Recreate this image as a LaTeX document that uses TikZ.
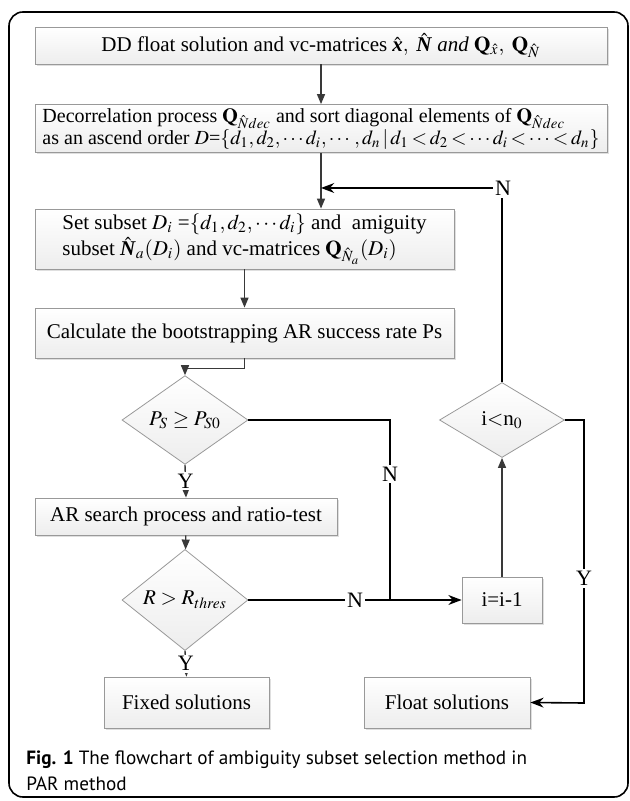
\documentclass[tikz,border=0pt]{standalone}
\usepackage{amsmath}
\usepackage{mathptmx}
\usepackage{fontspec}
\setmainfont{Liberation Serif}
\newfontfamily\capfont{PT Sans}
\usepackage{tikz}
\usetikzlibrary{arrows.meta,shapes.geometric,shadows}
\newcommand{\bhx}{\hat{\textbf{\textit{x}}}}
\newcommand{\bhN}{\hat{\textbf{\textit{N}}}}
\newcommand{\tightlines}{\lineskiplimit=-20pt\relax\thickmuskip=2.5mu\relax}
\tikzset{
  stepbox/.style={draw=gray!80, top color=white, bottom color=gray!14, inner sep=1pt,
    drop shadow={opacity=0.25, shadow xshift=1pt, shadow yshift=-1pt},
    font=\fontsize{10.5}{13}\selectfont},
  test/.style={diamond, draw=gray!80, top color=white, bottom color=gray!14, inner sep=0pt,
    font=\fontsize{10.5}{13}\selectfont},
  flow/.style={draw=gray!45!black, line width=0.7pt, -{Triangle[length=5pt,width=4pt]}},
  loop/.style={draw=black, line width=0.8pt},
  lbl/.style={fill=white, inner sep=1pt, font=\fontsize{11}{13}\selectfont},
  >=Stealth
}
\begin{document}
\begin{tikzpicture}[x=0.5pt, y=-0.5pt]
  \useasboundingbox (0,0) rectangle (630,801);
  \draw[line width=0.8pt, rounded corners=7pt] (9,12) rectangle (628,797);
  % steps
  \node[stepbox, minimum width=286pt, minimum height=18.5pt] (dd) at (321,45.5)
    {DD float solution and vc-matrices $\bhx,\ \bhN$ \textit{and} $\mathbf{Q}_{\hat{x}},\ \mathbf{Q}_{\hat{N}}$};
  \node[stepbox, minimum width=286pt, minimum height=24pt, align=left,
    font=\fontsize{10}{11}\selectfont] (dec) at (321,128.5)
    {\tightlines Decorrelation process $\mathbf{Q}_{\hat{N}dec}$ and sort diagonal elements of $\mathbf{Q}_{\hat{N}dec}$\\
     \tightlines as an ascend order $D$=$\{d_1, d_2, \cdots d_i, \cdots, d_n\, | \,d_1 < d_2 < \cdots d_i < \cdots < d_n\}$};
  \node[stepbox, minimum width=209.5pt, minimum height=30pt, align=left] (sub) at (244.5,239)
    {Set subset $D_i$ =$\{d_1, d_2, \cdots d_i\}$ and \ amiguity\\
     subset $\bhN_a(D_i)$ and vc-matrices $\mathbf{Q}_{\hat{N}_a}(D_i)$};
  \node[stepbox, minimum width=209.5pt, minimum height=25pt] (calc) at (244.5,333)
    {Calculate the bootstrapping AR success rate Ps};
  \node[test, minimum width=63pt, minimum height=37.5pt] (ps) at (185,420) {$P_S \geq P_{S0}$};
  \node[stepbox, minimum width=151pt, minimum height=18.5pt] (ar) at (186,516.5)
    {AR search process and ratio-test};
  \node[test, minimum width=63pt, minimum height=37.5pt] (rt) at (185,600) {$R > R_{thres}$};
  \node[stepbox, minimum width=82.5pt, minimum height=25.5pt] (fix) at (186.5,702.5) {Fixed solutions};
  \node[stepbox, minimum width=83pt, minimum height=25.5pt] (flt) at (447,702.5) {Float solutions};
  \node[stepbox, minimum width=40pt, minimum height=23pt] (dec1) at (502,600) {i=i-1};
  \node[test, minimum width=62.5pt, minimum height=37.5pt] (lt) at (502,420) {i$<$n$_0$};
  \node[lbl] (nloop) at (503,188) {N};
  \coordinate (jn) at (390,600);
  \coordinate (rc) at (584,703);
  % caption
  \node[anchor=west, align=left, inner sep=0pt, font=\capfont\fontsize{9.6}{13}\selectfont] (cap) at (26,771)
    {\textbf{Fig. 1} The flowchart of ambiguity subset selection method in\\PAR method};
  % main flow
  \draw[flow] (dd) -- (dec);
  \draw[flow] (dec.south) -- (dec.south |- sub.north);
  \draw[flow] (sub.south -| calc.north) -- (calc.north);
  \draw[flow] (calc.south) -- ++(0,10) -| (ps.north);
  \draw[flow] (ps.south) -- node[lbl]{Y} (ar.north);
  \draw[flow] (ar) -- (rt);
  \draw[flow] (rt.south) -- node[lbl]{Y} (fix.north);
  \draw[flow] (dec1) -- (lt);
  % branches
  \draw[loop] (lt.north) -- (nloop.south -| lt.north);
  \draw[loop,->] (nloop.west) -- (dec.south |- nloop);
  \draw[loop] (ps.east) -| node[lbl, pos=0.65]{N} (jn);
  \draw[loop,->] (rt.east) -- node[lbl, pos=0.5]{N} (dec1.west);
  \draw[loop,->] (lt.east) -| node[lbl, pos=0.78]{Y} (rc) -- (flt.east);
\end{tikzpicture}
\end{document}
